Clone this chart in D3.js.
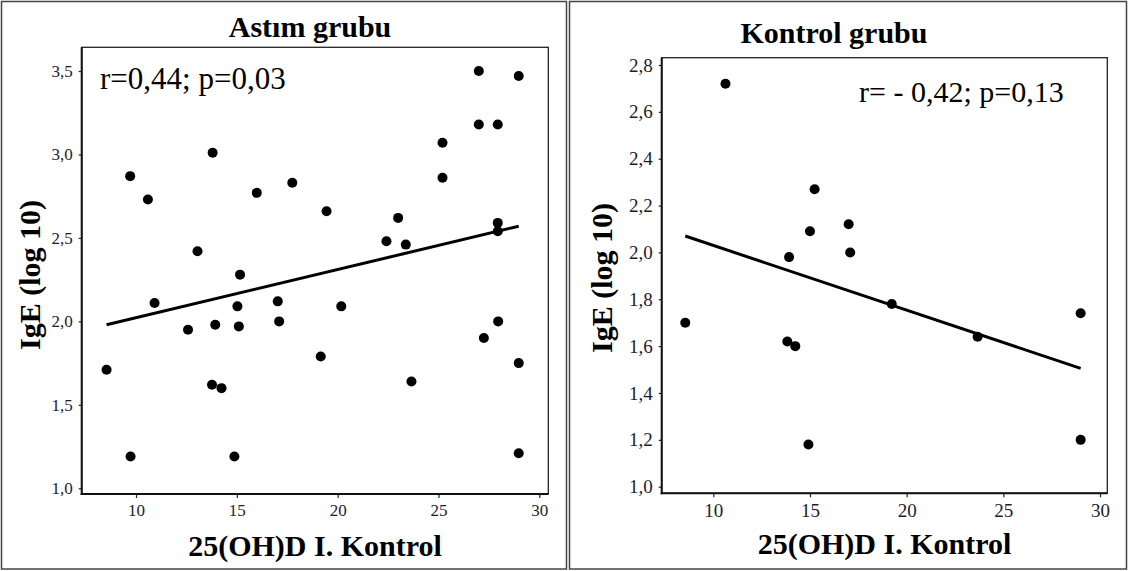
<!DOCTYPE html>
<html>
<head>
<meta charset="utf-8">
<script src="https://cdn.jsdelivr.net/npm/d3@7"></script>
<style>
  body { margin: 0; background: #fff; }
  svg { display: block; }
  svg text { font-family: "Liberation Serif", "Times New Roman", serif; }
</style>
</head>
<body>
<div id="chart"></div>
<script>
// Astım grubu: 25(OH)D vs IgE (log 10)
const astimX = [8.54, 9.73, 9.71, 10.59, 10.92, 12.58, 13.05, 13.80, 13.77, 13.93,
  14.24, 14.88, 15.03, 15.10, 15.16, 15.99, 17.03, 17.10, 17.75, 19.16,
  19.45, 20.18, 22.42, 23.00, 23.38, 23.66, 25.20, 25.20, 27.00, 27.00,
  27.25, 27.94, 27.94, 27.94, 27.96, 28.98, 28.98, 28.98];
const astimY = [1.71, 1.19, 2.87, 2.73, 2.11, 1.95, 2.42, 3.01, 1.62, 1.98,
  1.60, 1.19, 2.09, 1.97, 2.28, 2.77, 2.12, 2.00, 2.83, 1.79,
  2.66, 2.09, 2.48, 2.62, 2.46, 1.64, 3.07, 2.86, 3.50, 3.18,
  1.90, 3.18, 2.59, 2.54, 2.00, 3.47, 1.75, 1.21];
const astimFitX = [8.54, 28.98];
const astimFitY = [1.98, 2.57];

// Kontrol grubu
const kontrolX = [8.55, 10.63, 13.83, 13.92, 14.24, 14.92, 15.00, 15.24, 17.00, 17.08,
  19.23, 23.67, 29.00, 29.00];
const kontrolY = [1.70, 2.72, 1.62, 1.98, 1.60, 1.18, 2.09, 2.27, 2.12, 2.00,
  1.78, 1.64, 1.74, 1.20];
const kontrolFitX = [8.55, 29.00];
const kontrolFitY = [2.07, 1.505];

const xTicks = [10, 15, 20, 25, 30];
const astimYTicks = [1.0, 1.5, 2.0, 2.5, 3.0, 3.5];
const kontrolYTicks = [1.0, 1.2, 1.4, 1.6, 1.8, 2.0, 2.2, 2.4, 2.6, 2.8];

const W = 1128, H = 571;
const FONT = '"Liberation Serif", "Times New Roman", serif';
const comma = d3.formatLocale({ decimal: ",", thousands: ".", grouping: [3], currency: ["", ""] });
const fmtY = comma.format(".1f");

const svg = d3.select('#chart').append('svg')
  .attr('width', W)
  .attr('height', H);

// panel frames
svg.append('rect').attr('x', 1.5).attr('y', 1.5).attr('width', 565).attr('height', 567.5)
  .attr('fill', 'none').attr('stroke', '#444').attr('stroke-width', 1.5);
svg.append('rect').attr('x', 569.5).attr('y', 1.5).attr('width', 557).attr('height', 567.5)
  .attr('fill', 'none').attr('stroke', '#444').attr('stroke-width', 1.5);

drawPanel({
  title: 'Astım grubu', titleX: 310, titleY: 37,
  stat: 'r=0,44; p=0,03', statX: 100, statY: 89, statSize: 31,
  box: { x0: 81.7, x1: 548.3, y0: 47.3, y1: 494 },
  xRange: [136, 539.3], yRange: [488.3, 71], yDomain: [1, 3.5],
  yTicks: astimYTicks, tickSize: 17,
  xs: astimX, ys: astimY, fitX: astimFitX, fitY: astimFitY,
  ylabX: 40, ylabY: 275, xlabY: 556
});

drawPanel({
  title: 'Kontrol grubu', titleX: 834, titleY: 43,
  stat: 'r= - 0,42; p=0,13', statX: 859, statY: 102, statSize: 30,
  box: { x0: 661.7, x1: 1107.3, y0: 57.7, y1: 493.3 },
  xRange: [713.3, 1100], yRange: [486.7, 65], yDomain: [1, 2.8],
  yTicks: kontrolYTicks, tickSize: 19,
  xs: kontrolX, ys: kontrolY, fitX: kontrolFitX, fitY: kontrolFitY,
  ylabX: 612, ylabY: 278, xlabY: 554
});

function drawPanel(c) {
  const x = d3.scaleLinear().domain([10, 30]).range(c.xRange);
  const y = d3.scaleLinear().domain(c.yDomain).range(c.yRange);
  const b = c.box;
  const g = svg.append('g');

  // plot box
  g.append('rect')
    .attr('x', b.x0).attr('y', b.y0)
    .attr('width', b.x1 - b.x0).attr('height', b.y1 - b.y0)
    .attr('fill', 'none').attr('stroke', '#222').attr('stroke-width', 1.3);

  // axes
  const yAxis = g.append('g')
    .attr('transform', `translate(${b.x0},0)`)
    .call(d3.axisLeft(y).tickValues(c.yTicks).tickSize(3).tickPadding(6).tickFormat(fmtY));
  const xAxis = g.append('g')
    .attr('transform', `translate(0,${b.y1})`)
    .call(d3.axisBottom(x).tickValues(xTicks).tickSize(4).tickPadding(6));

  [yAxis, xAxis].forEach(a => {
    a.attr('font-family', FONT).attr('font-size', c.tickSize);
    a.select('.domain').remove();
    a.selectAll('text').attr('fill', '#1c1c2c');
    a.selectAll('line').attr('stroke', '#222').attr('stroke-width', 1.2);
  });

  // thicker left and bottom axis lines
  g.append('line').attr('x1', b.x0).attr('x2', b.x0).attr('y1', b.y0).attr('y2', b.y1 + 1)
    .attr('stroke', '#111').attr('stroke-width', 2);
  g.append('line').attr('x1', b.x0 - 1).attr('x2', b.x1).attr('y1', b.y1).attr('y2', b.y1)
    .attr('stroke', '#111').attr('stroke-width', 2);

  // regression line
  const fit = c.fitX.map((v, i) => ({ x: v, y: c.fitY[i] }));
  g.append('path')
    .datum(fit)
    .attr('d', d3.line().x(d => x(d.x)).y(d => y(d.y)))
    .attr('fill', 'none')
    .attr('stroke', '#000')
    .attr('stroke-width', 3);

  // points
  const pts = c.xs.map((v, i) => ({ x: v, y: c.ys[i] }));
  g.selectAll('circle')
    .data(pts)
    .join('circle')
    .attr('cx', d => x(d.x))
    .attr('cy', d => y(d.y))
    .attr('r', 5)
    .attr('fill', '#000');

  // texts
  g.append('text')
    .attr('x', c.titleX).attr('y', c.titleY)
    .attr('text-anchor', 'middle')
    .attr('font-family', FONT)
    .style('font-size', '30px').style('font-weight', 'bold')
    .text(c.title);

  g.append('text')
    .attr('x', c.statX).attr('y', c.statY)
    .attr('font-family', FONT)
    .style('font-size', c.statSize + 'px')
    .text(c.stat);

  g.append('text')
    .attr('x', (b.x0 + b.x1) / 2).attr('y', c.xlabY)
    .attr('text-anchor', 'middle')
    .attr('font-family', FONT)
    .style('font-size', '30px').style('font-weight', 'bold')
    .text('25(OH)D I. Kontrol');

  g.append('text')
    .attr('transform', `translate(${c.ylabX},${c.ylabY}) rotate(-90)`)
    .attr('text-anchor', 'middle')
    .attr('font-family', FONT)
    .style('font-size', '30px').style('font-weight', 'bold')
    .text('IgE (log 10)');
}
</script>
</body>
</html>
